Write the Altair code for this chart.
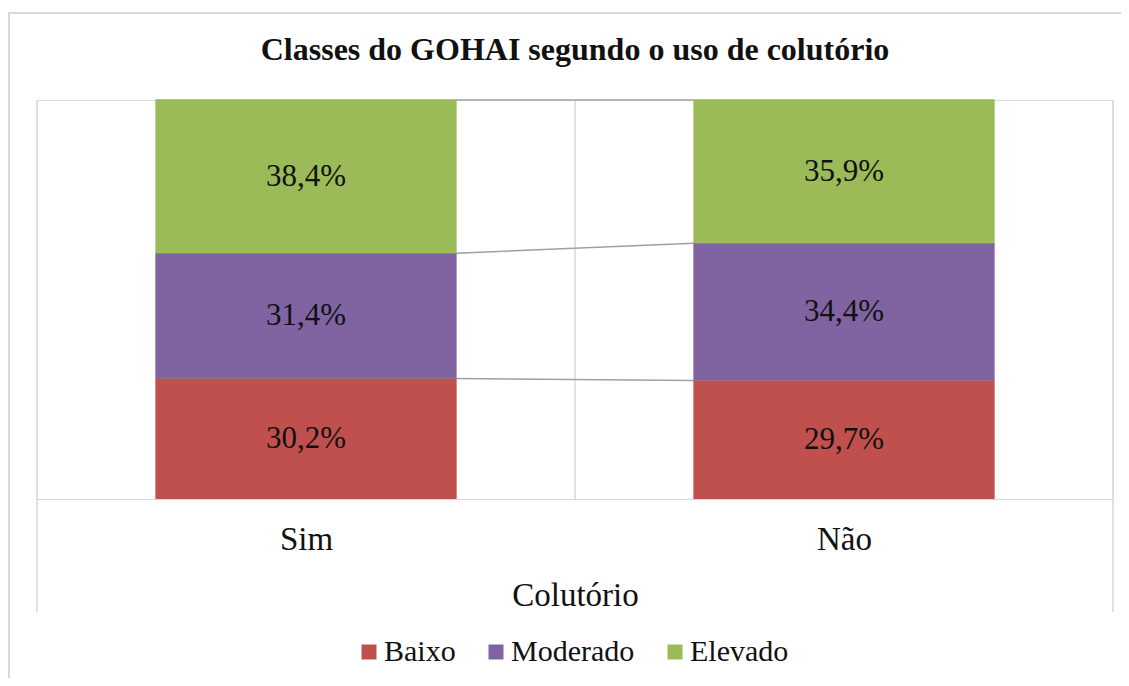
import json
import altair as alt
import pandas as pd

# ---- data ----
categories = ["Sim", "Não"]
series_names = ["Baixo", "Moderado", "Elevado"]
values_sim = [30.2, 31.4, 38.4]
values_nao = [29.7, 34.4, 35.9]
series_colors = ["#C0504D", "#8064A2", "#9BBB59"]

chart_title = "Classes do GOHAI segundo o uso de colutório"
x_title = "Colutório"

# ---- layout/style constants ----
FONT = "Liberation Serif"
PAD = 0.22          # band padding on each side of a bar (fraction of a category step)
W, H = 1076, 399
GRID = "#D9D9D9"

rows = []
for idx, (cat, vals) in enumerate(zip(categories, [values_sim, values_nao])):
    for order, (s, v) in enumerate(zip(series_names, vals)):
        rows.append({"cat": cat, "idx": idx, "series": s, "order": order, "value": v})
df = pd.DataFrame(rows)

n = len(categories)
grid_df = pd.DataFrame({"pos": list(range(n + 1))})

base = alt.Chart(df).transform_window(
    y1="sum(value)", groupby=["cat"], sort=[alt.SortField("order")],
    frame=[None, 0]
).transform_calculate(
    y0="datum.y1 - datum.value",
    ymid="datum.y1 - datum.value / 2",
    xl=f"datum.idx + {PAD}",
    xr=f"datum.idx + 1 - {PAD}",
    xc="datum.idx + 0.5",
    label="replace(format(datum.value, '.1f'), '.', ',') + '%'",
)

xscale = alt.Scale(domain=[0, n], nice=False, zero=False)
yscale = alt.Scale(domain=[0, 100], nice=False)
color_scale = alt.Scale(domain=series_names, range=series_colors)

x_axis = alt.Axis(
    values=[i + 0.5 for i in range(n)],
    labelExpr=f"{json.dumps(categories, ensure_ascii=False)}[floor(datum.value)]",
    grid=False, ticks=False, tickSize=0,
    domain=True, domainColor=GRID, domainWidth=1,
    labelFont=FONT, labelFontSize=33, labelColor="#111111",
    labelBaseline="alphabetic", labelPadding=50,
    title=x_title, titleFont=FONT, titleFontSize=33, titleFontWeight="normal",
    titleColor="#111111", titlePadding=23,
)

# frame around the chart
frame = alt.Chart(grid_df).mark_rect(fill=None, stroke=GRID, strokeWidth=2).encode(
    x=alt.value(-28), x2=alt.value(W + 40), y=alt.value(-87), y2=alt.value(700)
).transform_filter("datum.pos == 0")

# vertical lines at category boundaries
inner_grid = alt.Chart(grid_df).transform_filter(f"datum.pos > 0 && datum.pos < {n}").mark_rule(
    color=GRID, strokeWidth=1.5
).encode(x=alt.X("pos:Q", scale=xscale, axis=x_axis), y=alt.value(0), y2=alt.value(H))

outer_grid = alt.Chart(grid_df).transform_filter(f"datum.pos == 0 || datum.pos == {n}").mark_rule(
    color=GRID, strokeWidth=1.5
).encode(x=alt.X("pos:Q", scale=xscale, axis=x_axis), y=alt.value(0), y2=alt.value(512))

# series lines (drawn under the bars so only the gaps show)
lines = base.transform_fold(["xl", "xr"], as_=["edge", "xpos"]).mark_line(
    color="#A0A0A0", strokeWidth=1.5
).encode(
    x=alt.X("xpos:Q", scale=xscale, axis=x_axis),
    y=alt.Y("y1:Q", scale=yscale, axis=None),
    detail="series:N",
    order="xpos:Q",
)

bars = base.mark_rect().encode(
    x=alt.X("xl:Q", scale=xscale, axis=x_axis),
    x2="xr:Q",
    y=alt.Y("y0:Q", scale=yscale, axis=None),
    y2="y1:Q",
    color=alt.Color(
        "series:N", scale=color_scale, sort=series_names,
        legend=alt.Legend(
            title=None, orient="none", legendX=317, legendY=537,
            direction="horizontal", symbolType="square", symbolSize=225,
            symbolStrokeWidth=0, labelFont=FONT, labelFontSize=30,
            labelColor="#111111", labelOffset=0, columnPadding=25,
        ),
    ),
)

labels = base.mark_text(font=FONT, fontSize=31, color="#111111", baseline="middle").encode(
    x=alt.X("xc:Q", scale=xscale, axis=x_axis),
    y=alt.Y("ymid:Q", scale=yscale, axis=None),
    text="label:N",
)

chart = alt.layer(frame, inner_grid, outer_grid, lines, bars, labels).properties(
    width=W, height=H,
    autosize="none",
    padding={"left": 29, "top": 92, "right": 8, "bottom": 179},
    title=alt.Title(
        chart_title, font=FONT, fontSize=32, fontWeight="bold", color="#111111",
        anchor="middle", baseline="alphabetic", offset=-80,
    ),
).configure_view(stroke=None).configure(background="white")

chart.save("out.html", embed_options={"renderer": "svg", "actions": False})
